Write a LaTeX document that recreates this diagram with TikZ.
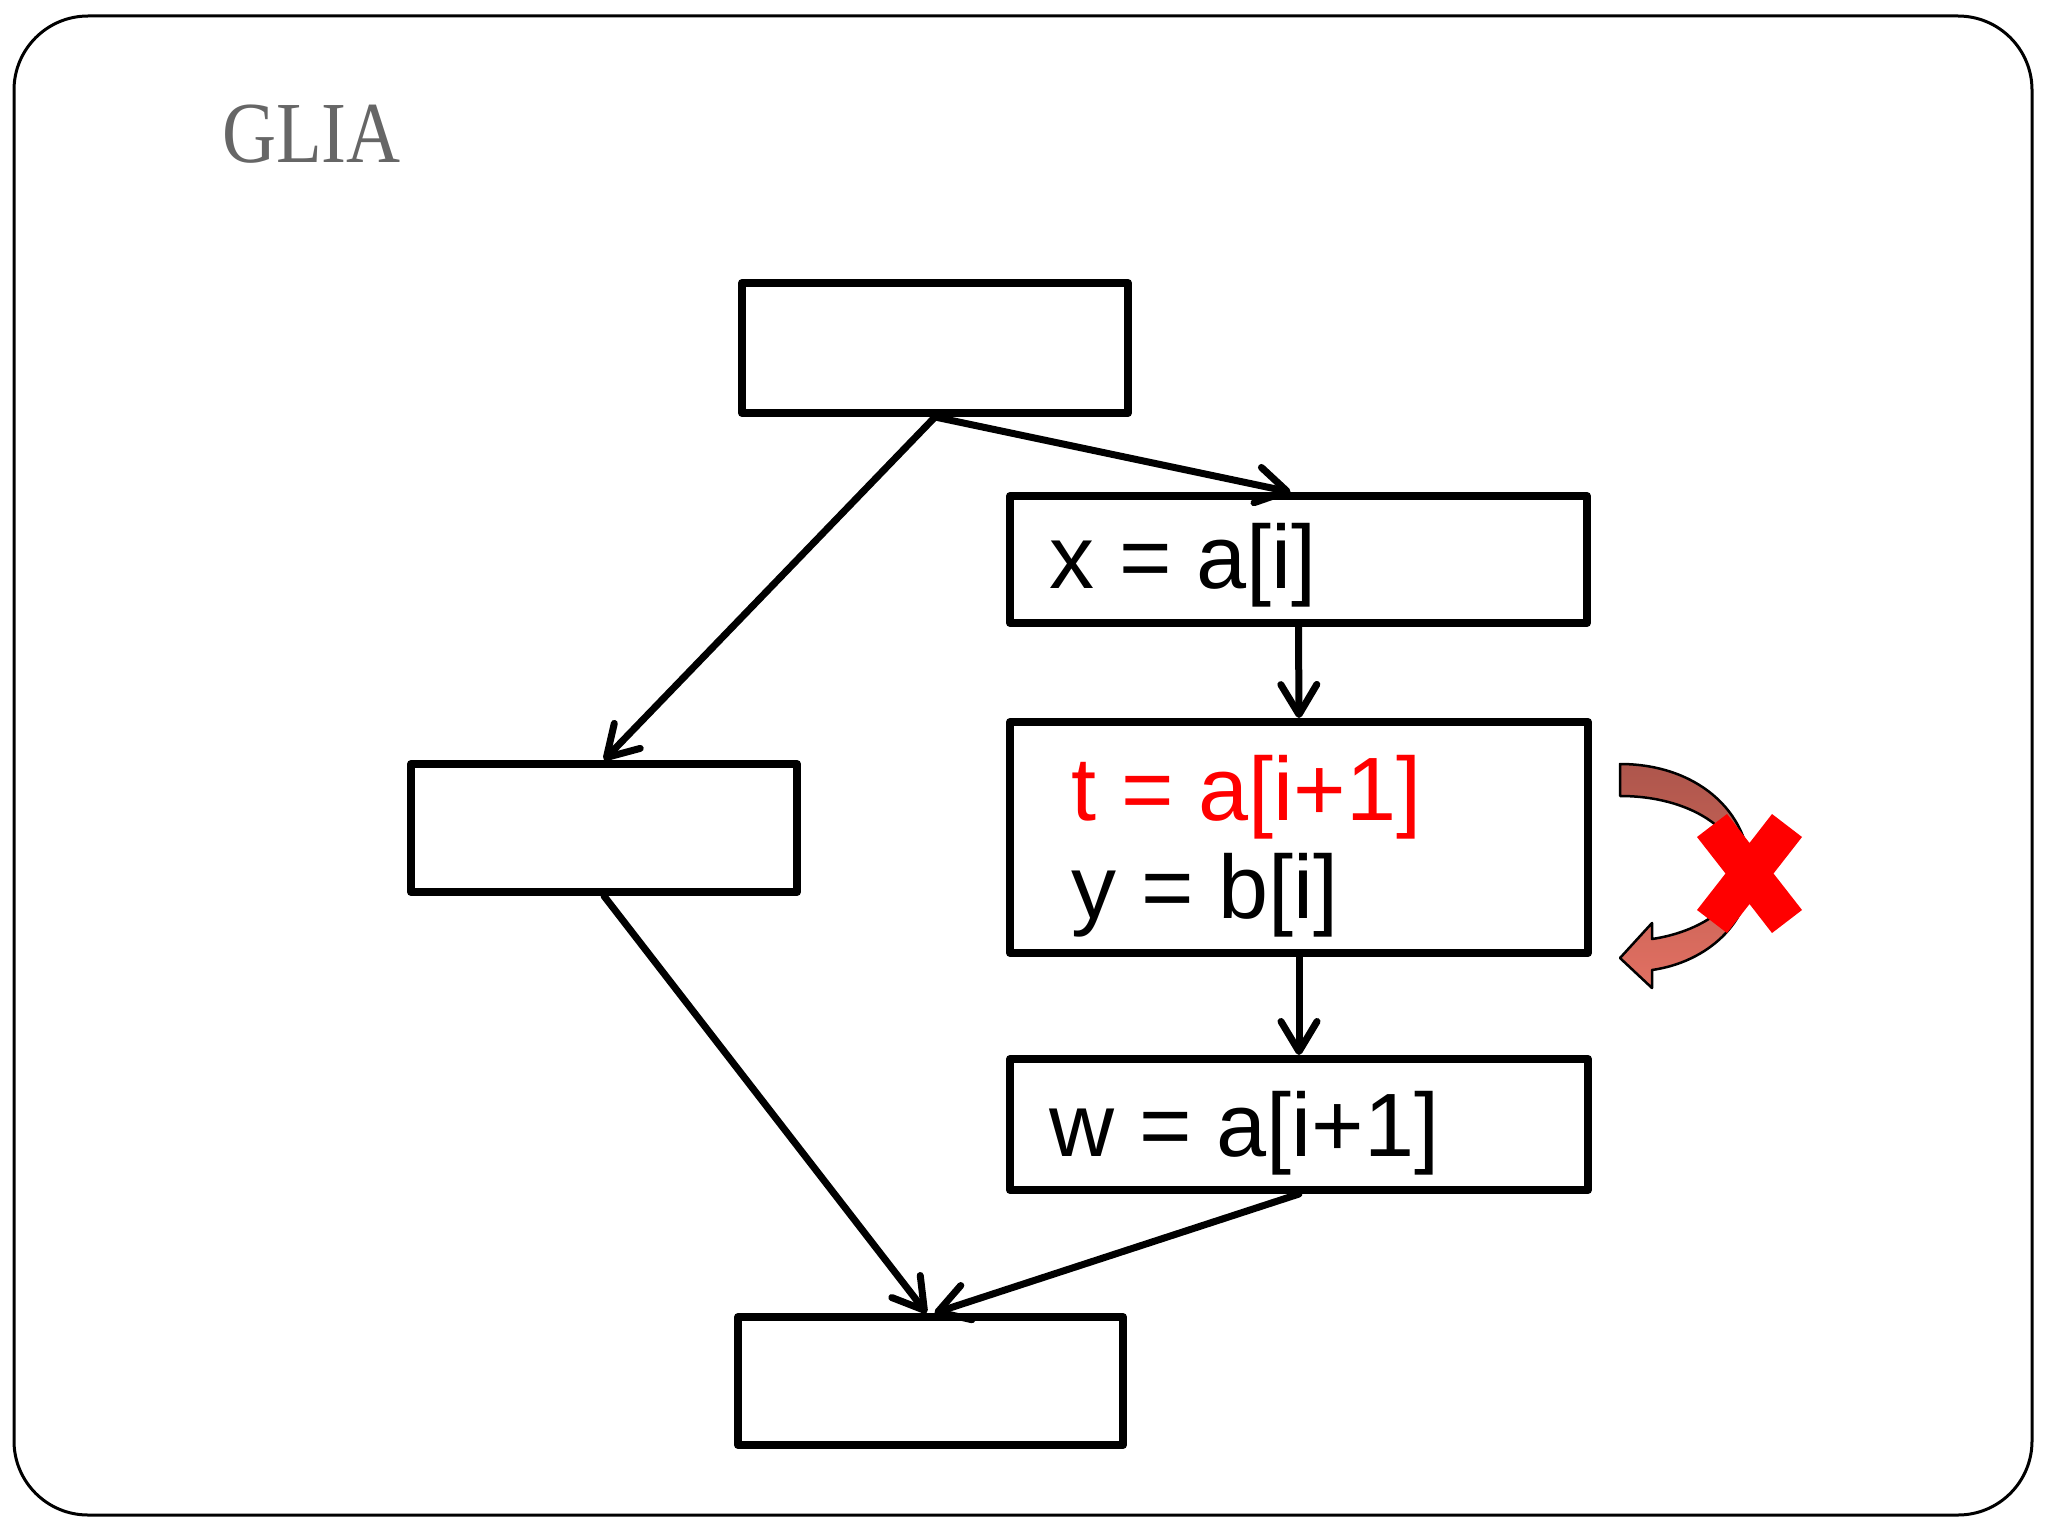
\documentclass[tikz,border=0pt]{standalone}
\usepackage{fontspec}
\newfontfamily\arialf{Liberation Sans}
\newfontfamily\serff{Liberation Serif}
\usetikzlibrary{arrows.meta,calc}
\definecolor{titlegrey}{RGB}{102,102,102}
\definecolor{bandtop}{RGB}{174,86,76}
\definecolor{bandbot}{RGB}{226,112,98}
\tikzset{
  box/.style={draw=black, line width=8pt, line join=round, inner sep=0pt},
  code/.style={anchor=base west, inner sep=0pt, font=\arialf\fontsize{90}{100}\selectfont},
  flow/.style={line width=7pt, line cap=round, -{Straight Barb[length=30pt,width=36pt,line cap=round,line join=round]}}
}
\begin{document}
\begin{tikzpicture}[x=1pt,y=-1pt]
\useasboundingbox (0,0) rectangle (2048,1536);
\draw[line width=3pt, rounded corners=74pt] (14,16) rectangle (2032,1515);
\node[anchor=base west, inner sep=0pt, text=titlegrey] (title) at (222,163) {\scalebox{0.86}[1]{\serff\fontsize{87}{100}\selectfont GLIA}};
% boxes
\node[box, minimum width=386pt, minimum height=130pt] (top) at (935,348) {};
\node[box, minimum width=577pt, minimum height=127pt] (xb) at (1298.5,559.5) {};
\node[box, minimum width=578pt, minimum height=231pt] (tb) at (1299,837.5) {};
\node[box, minimum width=578pt, minimum height=131pt] (wb) at (1299,1124.5) {};
\node[box, minimum width=386pt, minimum height=128pt] (lb) at (604,828) {};
\node[box, minimum width=385pt, minimum height=128pt] (bb) at (930.5,1381) {};
% texts
\node[code] (tx) at (1049,588) {x = a[i]};
\node[code, text=red] (tt) at (1071,820) {t = a[i+1]};
\node[code] (ty) at (1071,918) {y = b[i]};
\node[code] (tw) at (1049,1156) {w = a[i+1]};
% connectors
\draw[flow] (top.south) -- ($(xb.north)+(-8,0)$);
\draw[flow] (top.south) -- (lb.north);
\draw[flow] (xb.south) -- (tb.north);
\draw[flow] (tb.south) -- (wb.north);
\draw[flow] (lb.south) -- ($(bb.north)+(-4,0)$);
\draw[flow] (wb.south) -- ($(bb.north)+(4,0)$);
% curved arrow
\shade[top color=bandtop, bottom color=bandbot, draw=black, line width=2.5pt, line join=round]
  (1620,764) .. controls (1695,764) and (1750,810) .. (1750,874)
  .. controls (1750,922) and (1708,962) .. (1652,970)
  -- (1652,988) -- (1620,958) -- (1652,923) -- (1652,939)
  .. controls (1700,932) and (1740,905) .. (1742,872)
  .. controls (1740,830) and (1690,796) .. (1620,796) -- cycle;
% red cross
\fill[red] (1727,814) -- (1749.5,843) -- (1772,814) -- (1802,837) -- (1773.5,873.5)
  -- (1802,910) -- (1772,933) -- (1749.5,904) -- (1727,933) -- (1697,910)
  -- (1725.5,873.5) -- (1697,837) -- cycle;
\end{tikzpicture}
\end{document}
